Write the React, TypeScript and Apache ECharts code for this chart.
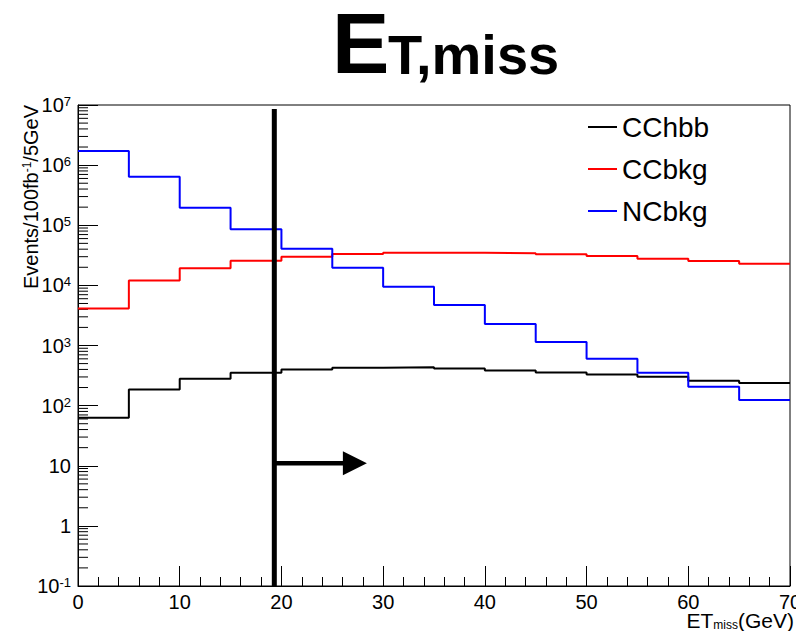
import React, { useEffect, useRef } from "react";
import * as echarts from "echarts";

// ---- data ----
const binEdges = [0, 5, 10, 15, 20, 25, 30, 35, 40, 45, 50, 55, 60, 65, 70];
const seriesNames = ["CChbb", "CCbkg", "NCbkg"];
const cchbbValues = [63, 186, 280, 352, 400, 428, 433, 416, 385, 357, 330, 302, 259, 237];
const ccbkgValues = [4140, 12100, 19200, 25700, 30000, 33200, 35000, 34800, 34100, 32900, 30900, 27800, 25400, 22900];
const ncbkgValues = [1720000, 640000, 195000, 86000, 40700, 19600, 9500, 4700, 2270, 1140, 603, 352, 206, 124];
const seriesColors = ["#000000", "#ff0000", "#0000ff"];

const xMin = 0;
const xMax = 70;
const yMin = 0.1;
const yMax = 1e7;
const yDecades = [-1, 0, 1, 2, 3, 4, 5, 6];
const minorMultipliers = [2, 3, 4, 5, 6, 7, 8, 9];

const cutValue = 19.3;
const arrowY = 11;
const arrowEnd = 28.4;

const FONT = "Liberation Sans, Arial, Helvetica, sans-serif";

function stepData(values: number[]) {
  return binEdges.map((x, i) => [x, values[Math.min(i, values.length - 1)]]);
}

const minorTickValues: number[][] = [];
yDecades.forEach((d) => {
  minorMultipliers.forEach((m) => {
    minorTickValues.push([0, m * Math.pow(10, d)]);
  });
});

export default function App() {
  const ref = useRef<HTMLDivElement>(null);

  useEffect(() => {
    document.body.style.margin = "0";
    if (!ref.current) return;
    const chart = echarts.init(ref.current, undefined, { renderer: "svg" });

    const allValues = [cchbbValues, ccbkgValues, ncbkgValues];

    const option: any = {
      animation: false,
      backgroundColor: "#ffffff",
      textStyle: { fontFamily: FONT },
      grid: {
        left: 78,
        right: 6,
        top: 105,
        bottom: 45,
        show: true,
        borderColor: "#000",
        borderWidth: 1,
        containLabel: false,
        outerBoundsMode: "none",
      },
      legend: {
        data: seriesNames.map((n) => ({ name: n, icon: "rect" })),
        orient: "vertical",
        left: 583,
        top: 108,
        itemWidth: 29,
        itemHeight: 2,
        itemGap: 14,
        itemTextGap: 8,
        textStyle: { fontSize: 28, color: "#000", fontFamily: FONT },
        selectedMode: false,
      },
      xAxis: {
        type: "value",
        min: xMin,
        max: xMax,
        interval: 10,
        axisLine: { show: true, lineStyle: { color: "#000", width: 1 } },
        axisTick: { show: true, inside: true, length: 20, lineStyle: { color: "#000", width: 1 } },
        minorTick: { show: true, splitNumber: 5, length: 9, lineStyle: { color: "#000", width: 1 } },
        splitLine: { show: false },
        axisLabel: {
          fontSize: 20,
          color: "#000",
          margin: 6,
          fontFamily: FONT,
          showMaxLabel: true,
          showMinLabel: true,
        },
      },
      yAxis: {
        type: "log",
        logBase: 10,
        min: yMin,
        max: yMax,
        splitNumber: 8,
        axisLine: { show: true, lineStyle: { color: "#000", width: 1 } },
        axisTick: { show: true, inside: true, length: 20, lineStyle: { color: "#000", width: 1 } },
        splitLine: { show: false },
        axisLabel: {
          color: "#000",
          margin: 7,
          fontFamily: FONT,
          formatter: (v: number) => {
            const e = Math.round(Math.log10(v));
            if (e === 0) return "{b|1}";
            if (e === 1) return "{b|10}";
            return "{b|10}{s|" + e + "}";
          },
          rich: {
            b: { fontSize: 20, color: "#000", fontFamily: FONT },
            s: { fontSize: 13, color: "#000", fontFamily: FONT, verticalAlign: "top", padding: [0, 0, 6, 0] },
          },
        },
      },
      series: [
        ...allValues.map((vals, i) => ({
          name: seriesNames[i],
          type: "line",
          step: "end",
          data: stepData(vals),
          symbol: "none",
          lineStyle: { color: seriesColors[i], width: 2 },
          itemStyle: { color: seriesColors[i] },
          z: 5,
        })),
        {
          name: "minorTicks",
          type: "custom",
          silent: true,
          data: minorTickValues,
          z: 3,
          renderItem: (params: any, api: any) => {
            const p = api.coord([0, api.value(1)]);
            return {
              type: "line",
              shape: { x1: p[0], y1: p[1], x2: p[0] + 10, y2: p[1] },
              style: { stroke: "#000", lineWidth: 1 },
            };
          },
        },
        {
          name: "cut",
          type: "custom",
          silent: true,
          data: [[cutValue, arrowY]],
          z: 10,
          renderItem: (params: any, api: any) => {
            const top = api.coord([cutValue, yMax]);
            const bot = api.coord([cutValue, yMin]);
            const a0 = api.coord([cutValue, arrowY]);
            const a1 = api.coord([arrowEnd, arrowY]);
            const head = 24;
            return {
              type: "group",
              children: [
                {
                  type: "line",
                  shape: { x1: top[0], y1: top[1] + 4, x2: bot[0], y2: bot[1] },
                  style: { stroke: "#000", lineWidth: 5 },
                },
                {
                  type: "line",
                  shape: { x1: a0[0], y1: a0[1], x2: a1[0] - head + 1, y2: a1[1] },
                  style: { stroke: "#000", lineWidth: 4.5 },
                },
                {
                  type: "polygon",
                  shape: {
                    points: [
                      [a1[0] - head, a1[1] - 12],
                      [a1[0], a1[1]],
                      [a1[0] - head, a1[1] + 12],
                    ],
                  },
                  style: { fill: "#000" },
                },
              ],
            };
          },
        },
      ],
      graphic: [
        {
          type: "text",
          x: 332,
          y: 43,
          style: {
            text: "E",
            fontSize: 86,
            fontWeight: "bold",
            fontFamily: FONT,
            fill: "#000",
            align: "left",
            verticalAlign: "middle",
          },
        },
        {
          type: "text",
          x: 388,
          y: 54,
          style: {
            text: "T,miss",
            fontSize: 56,
            fontWeight: "bold",
            fontFamily: FONT,
            fill: "#000",
            align: "left",
            verticalAlign: "middle",
          },
        },
        {
          type: "text",
          x: 31,
          y: 197,
          rotation: Math.PI / 2,
          style: {
            text: "Events/100fb{s|-1}/5GeV",
            fontSize: 20,
            fontFamily: FONT,
            fill: "#000",
            align: "center",
            verticalAlign: "middle",
            rich: {
              s: { fontSize: 12, fontFamily: FONT, fill: "#000", verticalAlign: "top", padding: [0, 0, 6, 0] },
            },
          },
        },
        {
          type: "text",
          x: 794,
          y: 620,
          style: {
            text: "ET{s|miss}(GeV)",
            fontSize: 21,
            fontFamily: FONT,
            fill: "#000",
            align: "right",
            verticalAlign: "middle",
            rich: {
              s: { fontSize: 12, fontFamily: FONT, fill: "#000", verticalAlign: "bottom", padding: [6, 0, 0, 0] },
            },
          },
        },
      ],
    };

    chart.setOption(option);
    return () => {
      chart.dispose();
    };
  }, []);

  return <div ref={ref} style={{ width: 796, height: 631 }} />;
}
